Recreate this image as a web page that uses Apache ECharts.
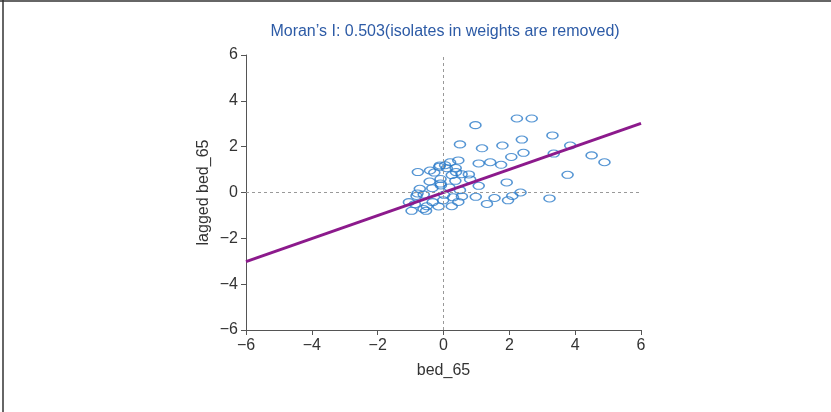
<!DOCTYPE html>
<html>
<head>
<meta charset="utf-8">
<script src="https://cdn.jsdelivr.net/npm/echarts@6/dist/echarts.min.js"></script>
<style>
  html, body { margin: 0; padding: 0; background: #fff; }
  #main { width: 831px; height: 412px; }
</style>
</head>
<body>
<div id="main"></div>
<script>
// 표준화된 값 (bed_65) 과 공간시차 값 (lagged bed_65)
const bedX = [2.23, 2.68, 0.97, 3.31, 2.38, 0.50, 1.79, 3.85, 1.17, 2.43,
  3.35, 2.06, 4.50, 4.89, 1.42, 1.75, 1.07, 0.45, 0.20, -0.11,
  -0.78, -0.41, -0.28, 0.37, 0.38, 0.10, 0.77, 0.55, 0.25, 3.77,
  -0.09, -0.42, 0.36, 0.81, 1.92, 1.07, -0.08, -0.72, -0.34, 0.50,
  0.18, 2.34, 2.09, 1.96, 1.55, 0.98, 0.56, 0.29, 0.02, -0.60,
  -0.82, 3.22, 1.32, 0.45, 0.25, -0.01, -0.15, -0.33, -0.51, -0.61,
  -0.97, -1.05, -0.13, 0.05, -0.09, -0.79, -0.53, -0.87];
const laggedY = [3.23, 3.23, 2.94, 2.49, 2.31, 2.10, 2.05, 2.05, 1.93, 1.73,
  1.70, 1.55, 1.62, 1.32, 1.32, 1.21, 1.27, 1.40, 1.32, 1.18,
  0.89, 0.96, 0.87, 1.07, 0.89, 1.06, 0.79, 0.80, 0.76, 0.77,
  0.59, 0.48, 0.51, 0.57, 0.44, 0.29, 0.31, 0.16, 0.19, 0.10,
  0.22, 0.00, -0.15, -0.34, -0.24, -0.19, -0.17, -0.21, -0.10, -0.09,
  -0.15, -0.26, -0.50, -0.41, -0.60, -0.34, -0.61, -0.42, -0.60, -0.72,
  -0.80, -0.42, 1.12, 1.19, 0.39, -0.04, -0.80, -0.51];
// 회귀선 (기울기 = Moran's I)
const fitX = [-6, 6];
const fitY = [-3.02, 3.02];
const tickVals = [-6, -4, -2, 0, 2, 4, 6];
const titleText = 'Moran\u2019s I: 0.503(isolates in weights are removed)';

const chart = echarts.init(document.getElementById('main'));
const minus = v => String(v).replace('-', '\u2212');
const axisBase = {
  type: 'value',
  min: tickVals[0],
  max: tickVals[tickVals.length - 1],
  interval: 2,
  splitLine: { show: false },
  axisLine: { show: true, onZero: false, lineStyle: { color: '#555', width: 1 } },
  axisTick: { show: true, length: 5, lineStyle: { color: '#555' } },
  axisLabel: { color: '#333', fontSize: 16, fontFamily: 'Liberation Sans', formatter: minus, margin: 8 },
  nameTextStyle: { color: '#333', fontSize: 16, fontFamily: 'Liberation Sans' },
  nameLocation: 'middle'
};
const pts = bedX.map((x, i) => [x, laggedY[i]]);

chart.setOption({
  animation: false,
  title: {
    text: titleText,
    left: 440, top: 19,
    textAlign: 'center',
    textStyle: { color: '#2d5ba6', fontSize: 16, fontWeight: 'normal', fontFamily: 'Liberation Sans' }
  },
  grid: { left: 246, right: 190, top: 55, bottom: 82 },
  xAxis: Object.assign({}, axisBase, { name: 'bed_65', nameGap: 33 }),
  yAxis: Object.assign({}, axisBase, { name: 'lagged bed_65', nameGap: 34 }),
  // 그림 테두리 (위, 왼쪽만)
  graphic: [
    { type: 'line', shape: { x1: 0, y1: 1, x2: 831, y2: 1 }, style: { stroke: '#333', lineWidth: 1.5 }, silent: true },
    { type: 'line', shape: { x1: 3, y1: 0, x2: 3, y2: 412 }, style: { stroke: '#333', lineWidth: 1.5 }, silent: true }
  ],
  series: [
    {
      type: 'scatter',
      data: pts,
      symbol: 'circle',
      symbolSize: [11, 7],
      itemStyle: { color: 'rgba(255,255,255,0)', borderColor: '#2a7bc8', borderWidth: 1.3 },
      markLine: {
        silent: true,
        symbol: 'none',
        label: { show: false },
        lineStyle: { color: '#999', type: [3, 3], width: 1 },
        data: [{ xAxis: 0 }, { yAxis: 0 }]
      },
      z: 3
    },
    {
      type: 'line',
      data: fitX.map((x, i) => [x, fitY[i]]),
      symbol: 'none',
      lineStyle: { color: '#8c1a8c', width: 3 },
      z: 4
    }
  ]
});
</script>
</body>
</html>
